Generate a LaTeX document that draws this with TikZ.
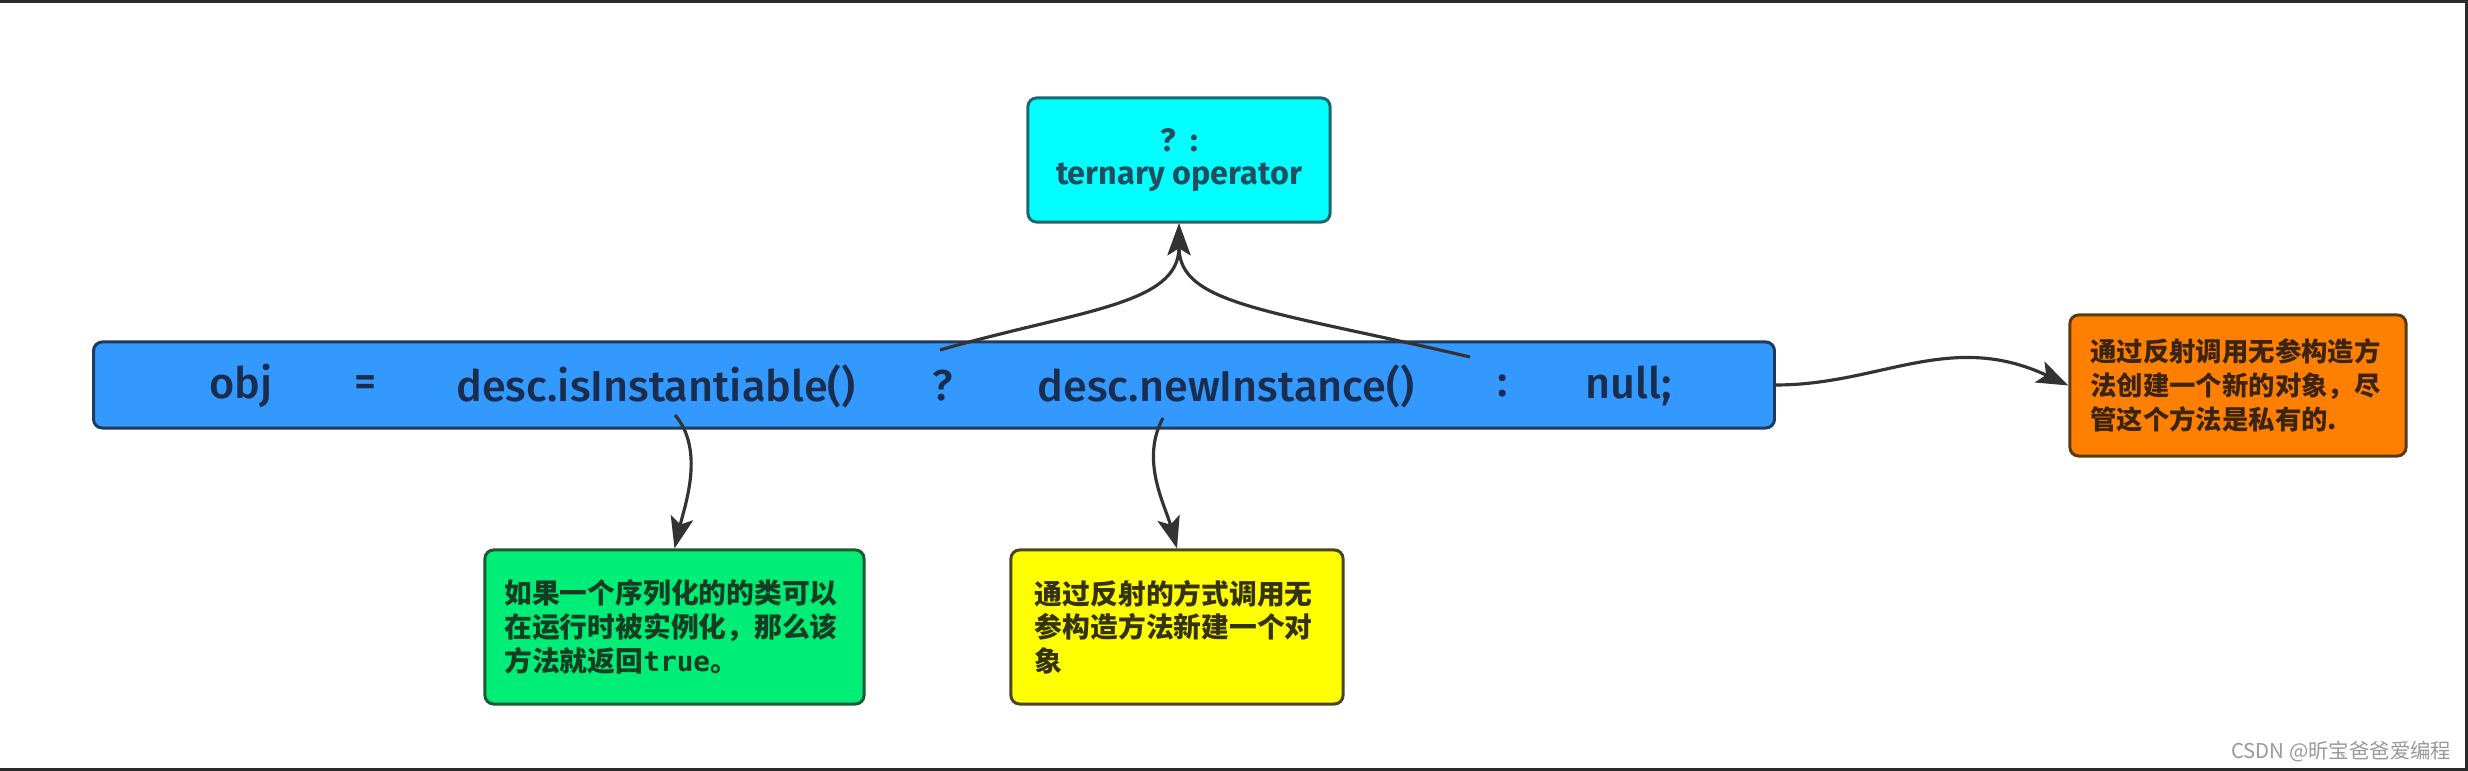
\documentclass[tikz,border=0pt]{standalone}
\usepackage{fontspec}
\setmainfont{Fira Sans}
\setmonofont{DejaVu Sans Mono}
\newfontfamily\medfont{Fira Sans Medium}
\newfontfamily\cjk{Noto Sans CJK SC}
\usetikzlibrary{arrows.meta}
\definecolor{cyanfill}{HTML}{00FFFF}
\definecolor{cyanline}{HTML}{1E6670}
\definecolor{cyantext}{HTML}{1F4F5E}
\definecolor{barfill}{HTML}{3399FF}
\definecolor{barline}{HTML}{1F3A5C}
\definecolor{bartext}{HTML}{1A2D4D}
\definecolor{orfill}{HTML}{FF8000}
\definecolor{orline}{HTML}{5A3A14}
\definecolor{ortext}{HTML}{3B2410}
\definecolor{grfill}{HTML}{00EE77}
\definecolor{grline}{HTML}{1E5A30}
\definecolor{grtext}{HTML}{143D22}
\definecolor{yefill}{HTML}{FFFF00}
\definecolor{yeline}{HTML}{4A4620}
\definecolor{yetext}{HTML}{35330E}
\definecolor{arrowc}{HTML}{333333}
\definecolor{frame}{HTML}{2B2B2B}
\tikzset{
  box/.style={draw, line width=0.85pt, rounded corners=2.5pt, inner sep=0pt},
  bartok/.style={text=bartext, font=\medfont\fontsize{12.3}{14}\selectfont, inner sep=0pt},
  note/.style={box, align=left},
  conn/.style={draw=arrowc, line width=0.9pt, -{Stealth[length=9pt,width=6.5pt,inset=2pt]}},
}
\begin{document}
\begin{tikzpicture}[x=0.01cm,y=-0.01cm]
\useasboundingbox (0,0) rectangle (2468,771);
\fill[white] (0,0) rectangle (2468,771);
% frame edges
\fill[frame] (0,0) rectangle (2468,3);
\fill[frame] (2465,0) rectangle (2468,771);
\fill[frame] (0,768) rectangle (2468,771);

% boxes
\node[box, fill=cyanfill, draw=cyanline, minimum width=3.02cm, minimum height=1.24cm,
      align=center, text=cyantext, font=\bfseries\fontsize{9.2}{9.2}\selectfont]
  (tern) at (1179,160) {?\hspace{0.45em}:\\ternary operator};

\node[box, fill=barfill, draw=barline, minimum width=16.8cm, minimum height=0.86cm]
  (bar) at (934,385) {};

\node[note, fill=orfill, draw=orline, minimum width=3.36cm, minimum height=1.41cm,
      text width=2.95cm, text=ortext, font=\cjk\bfseries\fontsize{7.5}{9.6}\selectfont]
  (orange) at (2238,385.5) {通过反射调用无参构造方\\法创建一个新的对象，尽\\管这个方法是私有的.};

\node[note, fill=grfill, draw=grline, minimum width=3.79cm, minimum height=1.54cm,
      text width=3.4cm, text=grtext, font=\cjk\bfseries\fontsize{7.9}{9.6}\selectfont]
  (green) at (674.5,627) {如果一个序列化的的类可以\\在运行时被实例化，那么该\\方法就返回{\ttfamily true}。};

\node[note, fill=yefill, draw=yeline, minimum width=3.32cm, minimum height=1.54cm,
      text width=2.84cm, text=yetext, font=\cjk\bfseries\fontsize{7.9}{9.6}\selectfont]
  (yellow) at (1177,627) {通过反射的方式调用无\\参构造方法新建一个对\\象};

% bar tokens
\node[bartok] (t1) at (241,386) {obj};
\node[bartok] (t2) at (366,386) {=};
\node[bartok] (t3) at (656,386) {desc.isInstantiable()};
\node[bartok] (t4) at (943,386) {?};
\node[bartok] (t5) at (1226,386) {desc.newInstance()};
\node[bartok] (t6) at (1503,386) {:};
\node[bartok] (t7) at (1629,386) {null;};

% connector start points
\coordinate (qs) at (940,350);
\coordinate (cs) at (1470,357);
\coordinate (is) at (675,415);
\coordinate (ns) at (1163,418);

% connectors
\draw[conn] (qs) .. controls (1080,310) and (1179,305) .. (tern.south);
\draw[conn] (cs) .. controls (1270,310) and (1179,305) .. (tern.south);
\draw[conn] (is) .. controls (705,450) and (685,505) .. (green.north);
\draw[conn] (ns) .. controls (1140,460) and (1165,505) .. (yellow.north);
\draw[conn] (bar.east) .. controls (1880,385) and (1950,330) .. (orange.west);

% watermark
\node[anchor=east, text=black!40, inner sep=0pt, font=\cjk\fontsize{5.8}{7}\selectfont]
  (wm) at (2452,752) {CSDN @昕宝爸爸爱编程};
\end{tikzpicture}
\end{document}
